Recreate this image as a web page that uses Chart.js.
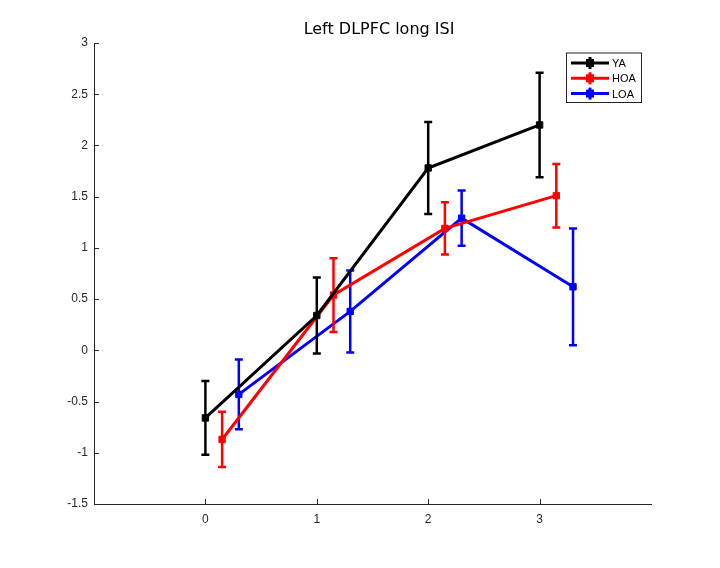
<!DOCTYPE html>
<html>
<head>
<meta charset="utf-8">
<title>Left DLPFC long ISI</title>
<script src="https://cdn.jsdelivr.net/npm/chart.js@4"></script>
<style>
  html, body { margin: 0; padding: 0; background: #fff; }
  #wrap { width: 720px; height: 568px; }
</style>
</head>
<body>
<div id="wrap"><canvas id="myChart" width="720" height="568"></canvas></div>
<script>
// data
var xTicks = [0, 1, 2, 3];
var seriesNames = ["YA", "HOA", "LOA"];
var seriesColors = ["#000000", "#ff0000", "#0000ff"];

var xYA = [0, 1, 2, 3];
var yaMean = [-0.66, 0.34, 1.78, 2.20];
var yaErr = [0.36, 0.37, 0.45, 0.51];

var xHOA = [0.15, 1.15, 2.15, 3.15];
var hoaMean = [-0.87, 0.54, 1.19, 1.51];
var hoaErr = [0.27, 0.36, 0.255, 0.31];

var xLOA = [0.3, 1.3, 2.3, 3.3];
var loaMean = [-0.43, 0.38, 1.29, 0.62];
var loaErr = [0.34, 0.40, 0.27, 0.57];

var titleText = "Left DLPFC long ISI";

document.addEventListener("DOMContentLoaded", function () {
  var ctx = document.getElementById("myChart").getContext("2d");

  function points(xs, ys) {
    return xs.map(function (x, i) { return { x: x, y: ys[i] }; });
  }

  var allX = [xYA, xHOA, xLOA];
  var allMean = [yaMean, hoaMean, loaMean];
  var allErr = [yaErr, hoaErr, loaErr];

  var datasets = seriesNames.map(function (name, i) {
    return {
      label: name,
      data: points(allX[i], allMean[i]),
      errors: allErr[i],
      showLine: true,
      borderColor: seriesColors[i],
      backgroundColor: seriesColors[i],
      borderWidth: 3,
      pointStyle: "rect",
      pointRadius: 4.5,
      pointBorderWidth: 1,
      pointHoverRadius: 4.5,
      tension: 0,
    };
  });

  // error bars, drawn right after each series so stacking order follows MATLAB
  var errorBars = {
    id: "errorBars",
    afterDatasetDraw: function (chart, args) {
      var ds = chart.data.datasets[args.index];
      var xs = chart.scales.x, ys = chart.scales.y;
      var c = chart.ctx;
      c.save();
      c.strokeStyle = ds.borderColor;
      c.lineWidth = 2.5;
      ds.data.forEach(function (p, j) {
        var e = ds.errors[j];
        var px = xs.getPixelForValue(p.x);
        var top = ys.getPixelForValue(p.y + e);
        var bot = ys.getPixelForValue(p.y - e);
        c.beginPath();
        c.moveTo(px, top); c.lineTo(px, bot);
        c.moveTo(px - 4, top); c.lineTo(px + 4, top);
        c.moveTo(px - 4, bot); c.lineTo(px + 4, bot);
        c.stroke();
      });
      c.restore();
    },
  };

  // inward ticks, title and matlab-like legend box
  var decorations = {
    id: "decorations",
    afterDraw: function (chart) {
      var c = chart.ctx;
      var area = chart.chartArea;
      var xs = chart.scales.x, ys = chart.scales.y;
      c.save();
      c.strokeStyle = "#262626";
      c.lineWidth = 1;
      c.beginPath();
      xs.ticks.forEach(function (t) {
        var px = Math.round(xs.getPixelForValue(t.value)) + 0.5;
        c.moveTo(px, area.bottom); c.lineTo(px, area.bottom - 5);
      });
      ys.ticks.forEach(function (t) {
        var py = Math.round(ys.getPixelForValue(t.value)) + 0.5;
        c.moveTo(area.left, py); c.lineTo(area.left + 5, py);
      });
      c.stroke();

      // title
      c.fillStyle = "#000";
      c.font = "16px 'DejaVu Sans'";
      c.textAlign = "center";
      c.textBaseline = "middle";
      c.fillText(titleText, 379, 30);

      // legend
      var bx = area.right - 85, by = area.top + 9.5, bw = 75, bh = 49.5;
      c.fillStyle = "#fff";
      c.fillRect(bx, by, bw, bh);
      c.strokeStyle = "#262626";
      c.strokeRect(bx + 0.5, by + 0.5, bw, bh);
      c.font = "11px 'Liberation Sans'";
      c.textAlign = "left";
      chart.data.datasets.forEach(function (ds, i) {
        var ly = by + 10.5 + i * 15.3;
        c.strokeStyle = ds.borderColor;
        c.lineWidth = 3;
        c.beginPath();
        c.moveTo(bx + 5, ly); c.lineTo(bx + 43, ly);
        c.stroke();
        c.fillStyle = ds.borderColor;
        c.fillRect(bx + 20, ly - 4, 8, 8);
        c.fillRect(bx + 22.5, ly - 6, 3, 12);
        c.fillStyle = "#000";
        c.fillText(ds.label, bx + 46, ly + 1);
      });
      c.restore();
    },
  };

  var tickFont = { family: "'Liberation Sans'", size: 12 };

  var options = {
    responsive: false,
    animation: false,
    layout: { padding: { left: 0, right: 69, top: 43, bottom: 0 } },
    plugins: {
      legend: { display: false },
      title: { display: false },
      tooltip: { enabled: false },
    },
    scales: {
      x: {
        type: "linear",
        min: -1,
        max: 4,
        afterBuildTicks: function (scale) {
          scale.ticks = xTicks.map(function (v) { return { value: v }; });
        },
        afterFit: function (scale) { scale.height = 64; },
        grid: { drawOnChartArea: false, drawTicks: false },
        border: { color: "#262626", width: 1 },
        ticks: {
          font: tickFont, color: "#262626", padding: 8,
          callback: function (v) { return String(v); },
        },
      },
      y: {
        min: -1.5,
        max: 3,
        afterFit: function (scale) { scale.width = 94; },
        grid: { drawOnChartArea: false, drawTicks: false },
        border: { color: "#262626", width: 1 },
        ticks: {
          font: tickFont, color: "#262626", stepSize: 0.5, padding: 6,
          callback: function (v) { return String(v); },
        },
      },
    },
  };

  new Chart(ctx, {
    type: "scatter",
    data: { datasets: datasets },
    options: options,
    plugins: [errorBars, decorations],
  });
});
</script>
</body>
</html>
